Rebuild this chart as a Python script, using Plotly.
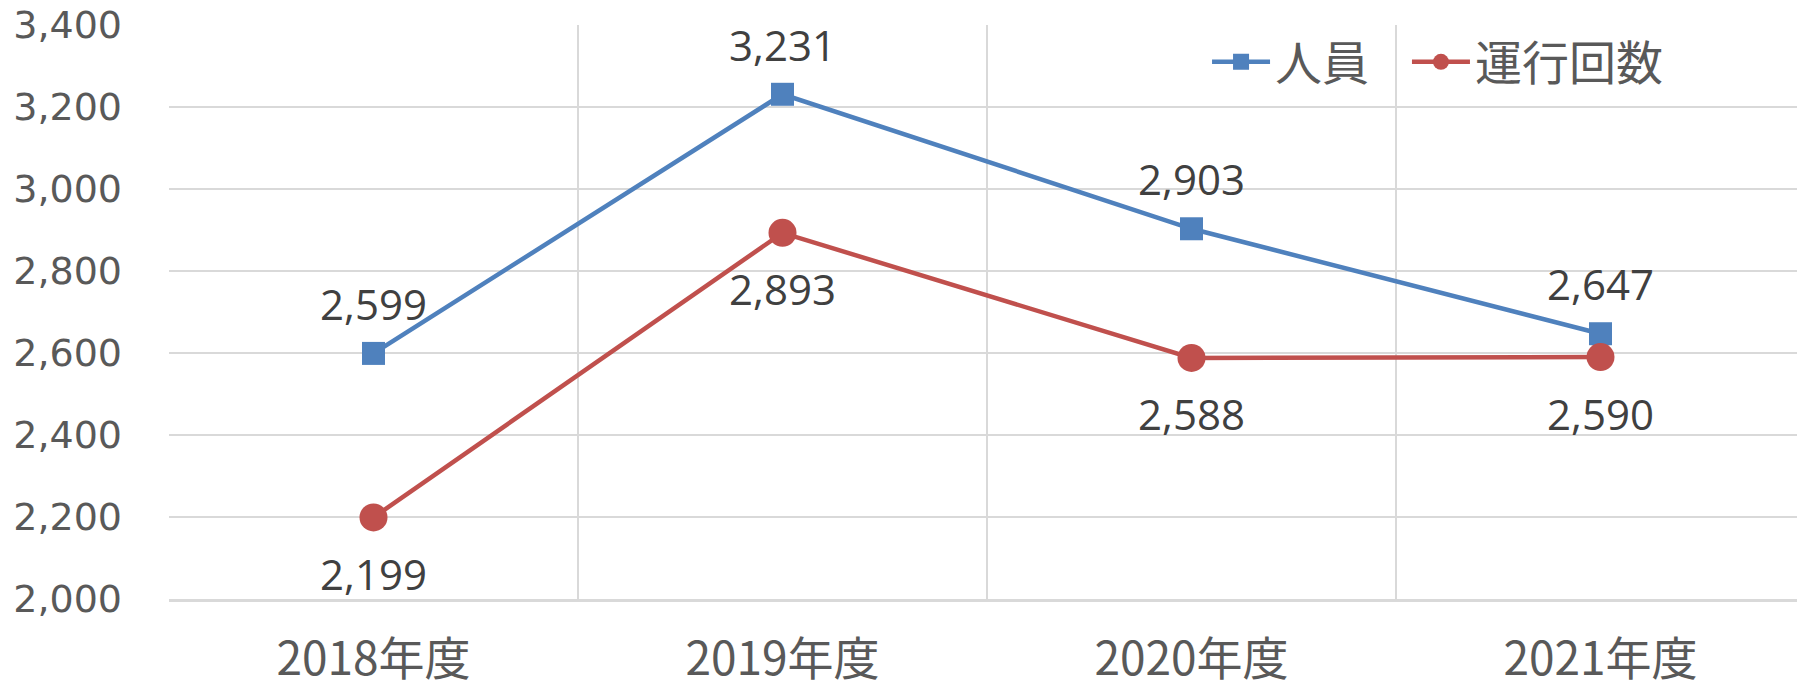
import plotly.graph_objects as go

categories = ["2018年度", "2019年度", "2020年度", "2021年度"]
staff = [2599, 3231, 2903, 2647]
trips = [2199, 2893, 2588, 2590]
series_names = ["人員", "運行回数"]

BLUE = "#4F81BD"
RED = "#C0504D"
AXIS_TXT = "#595959"
LABEL_TXT = "#404040"
GRID = "#D9D9D9"

fig = go.Figure()
fig.add_trace(go.Scatter(
    x=categories, y=staff, name=series_names[0], mode="lines+markers",
    line=dict(color=BLUE, width=4.5),
    marker=dict(symbol="square", size=23, color=BLUE),
    legend="legend",
))
fig.add_trace(go.Scatter(
    x=categories, y=trips, name=series_names[1], mode="lines+markers",
    line=dict(color=RED, width=4.5),
    marker=dict(symbol="circle", size=28, color=RED),
    legend="legend2",
))

for c, v in zip(categories, staff):
    fig.add_annotation(x=c, y=v, text=f"{v:,}", showarrow=False, yshift=50,
                       font=dict(family="Open Sans", size=42, color=LABEL_TXT))
for c, v in zip(categories, trips):
    fig.add_annotation(x=c, y=v, text=f"{v:,}", showarrow=False, yshift=-56,
                       font=dict(family="Open Sans", size=42, color=LABEL_TXT))

legend_style = dict(orientation="h", yanchor="middle", xanchor="left", y=0.935,
                    font=dict(family="Noto Sans CJK JP", size=47, color=AXIS_TXT),
                    bgcolor="rgba(255,255,255,0)", itemwidth=58, itemsizing="trace")

# page body has an 8px default margin, so the figure is sized to fit the window
fig.update_layout(
    width=1797, height=675,
    margin=dict(l=161, r=0, t=17, b=84, autoexpand=False),
    paper_bgcolor="white", plot_bgcolor="white",
    showlegend=True,
    legend=dict(x=0.6345, **legend_style),
    legend2=dict(x=0.7567, **legend_style),
)
fig.update_xaxes(
    type="category", range=[-0.5, 3.5], tickson="boundaries", automargin=False,
    showgrid=True, gridcolor=GRID, gridwidth=2,
    showline=True, linecolor=GRID, linewidth=3,
    ticks="", ticklabelstandoff=18, ticklabeloverflow="allow",
    tickfont=dict(family="Noto Sans CJK JP", size=46, color=AXIS_TXT),
)
fig.update_yaxes(
    range=[2000, 3400], dtick=200, tickformat=",", automargin=False,
    showgrid=True, gridcolor=GRID, gridwidth=2,
    zeroline=False, showline=False, ticks="", ticklabelstandoff=46,
    ticklabeloverflow="allow",
    tickfont=dict(family="DejaVu Sans", size=38, color=AXIS_TXT),
)

fig.write_html("out.html")
